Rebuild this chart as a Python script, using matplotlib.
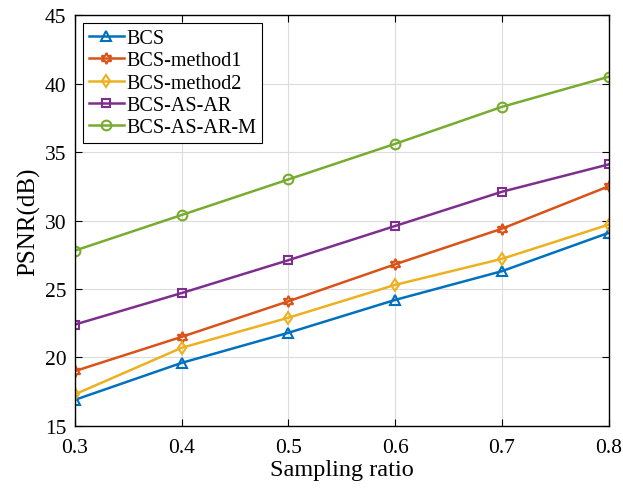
import matplotlib.pyplot as plt

plt.rcParams['font.family'] = ['Liberation Serif', 'DejaVu Serif']

ratio = [0.3, 0.4, 0.5, 0.6, 0.7, 0.8]
bcs = [16.9, 19.6, 21.8, 24.2, 26.3, 29.1]
bcs_m1 = [19.0, 21.5, 24.1, 26.8, 29.4, 32.5]
bcs_m2 = [17.3, 20.7, 22.9, 25.3, 27.2, 29.7]
bcs_asar = [22.4, 24.7, 27.1, 29.6, 32.1, 34.1]
bcs_asarm = [27.8, 30.4, 33.0, 35.6, 38.3, 40.5]

names = ['BCS', 'BCS-method1', 'BCS-method2', 'BCS-AS-AR', 'BCS-AS-AR-M']
colors = ['#0072BD', '#D95319', '#EDB120', '#7E2F8E', '#77AC30']
markers = ['^', (6, 1, 0), 'd', 's', 'o']
sizes = [7, 8, 6, 6, 7]

fig = plt.figure(figsize=(6.23, 4.89), dpi=100)
ax = fig.add_axes([0.120, 0.127, 0.857, 0.840])

for y, name, c, m, s in zip([bcs, bcs_m1, bcs_m2, bcs_asar, bcs_asarm],
                            names, colors, markers, sizes):
    ax.plot(ratio, y, color=c, marker=m, markersize=s, linewidth=1.8,
            markerfacecolor='none', markeredgewidth=1.5, label=name)

ax.set_xlim(0.3, 0.8)
ax.set_ylim(15, 45)
ax.set_xticks(ratio)
ax.set_xticklabels(['0.3', '0.4', '0.5', '0.6', '0.7', '0.8'])
ax.set_yticks([15, 20, 25, 30, 35, 40, 45])
ax.grid(True, color='#dcdcdc', linewidth=0.8)
ax.set_axisbelow(True)
ax.tick_params(direction='in', length=5, labelsize=15.5, top=True, right=True)
ax.tick_params(axis='x', pad=9)
ax.tick_params(axis='y', pad=6)
for sp in ax.spines.values():
    sp.set_linewidth(1.0)

ax.set_xlabel('Sampling ratio', fontsize=17.5, labelpad=1)
ax.set_ylabel('PSNR(dB)', fontsize=18, labelpad=3)

leg = ax.legend(loc='upper left', fontsize=14.5, frameon=True, fancybox=False,
                edgecolor='black', framealpha=1, borderpad=0.3,
                labelspacing=0.15, handlelength=1.75, handletextpad=0.1,
                borderaxespad=0.4)
leg.get_frame().set_linewidth(0.8)

fig.savefig('out.png', dpi=100)
